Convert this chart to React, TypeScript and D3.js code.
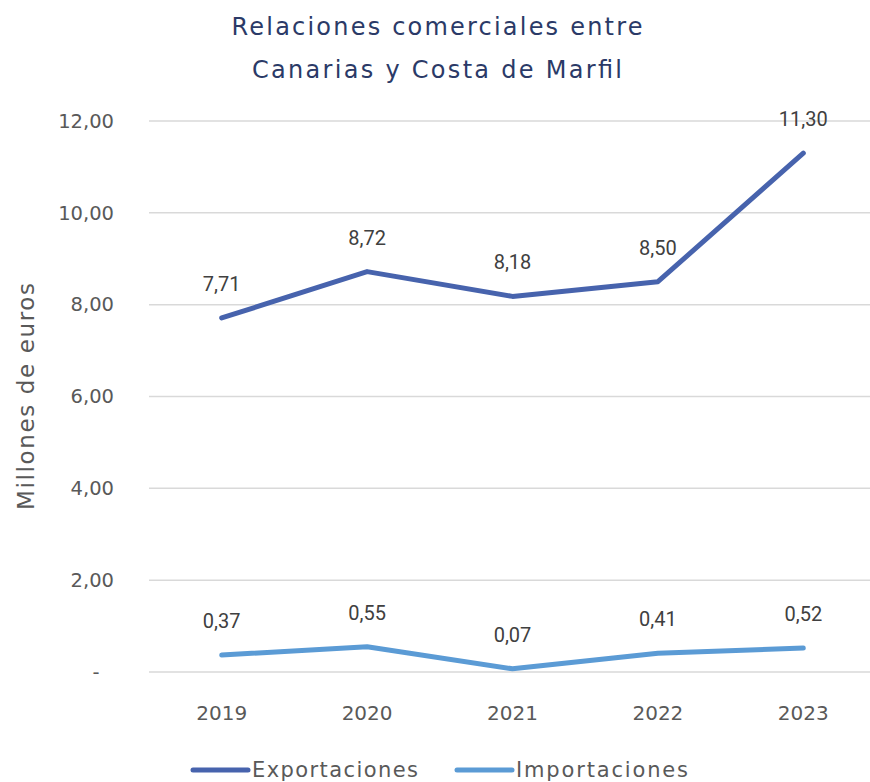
import React, { useRef, useEffect } from "react";
import * as d3 from "d3";

const years = ["2019", "2020", "2021", "2022", "2023"];
const exportaciones = [7.71, 8.72, 8.18, 8.5, 11.3];
const importaciones = [0.37, 0.55, 0.07, 0.41, 0.52];
const yTicks = [0, 2, 4, 6, 8, 10, 12];
const seriesNames = ["Exportaciones", "Importaciones"];
const seriesColors = ["#4763ad", "#5b9bd5"];
const titleLines = ["Relaciones comerciales entre", "Canarias y Costa de Marfil"];

const fmt = (v: number) => v.toFixed(2).replace(".", ",");

const App = () => {
  const svgRef = useRef<SVGSVGElement>(null);

  useEffect(() => {
    const width = 870;
    const height = 782;
    const margin = { top: 121, right: -6, bottom: 110, left: 149 };
    const font = "'DejaVu Sans', sans-serif";

    const svg = d3.select(svgRef.current).attr("width", width).attr("height", height);
    svg.selectAll("*").remove();

    const x = d3
      .scaleBand<string>()
      .domain(years)
      .range([margin.left, width - margin.right]);
    const y = d3
      .scaleLinear()
      .domain([0, 12])
      .range([height - margin.bottom, margin.top]);

    // title (Poppins-like width via textLength)
    const titleLens = [411, 370];
    titleLines.forEach((t, i) => {
      svg
        .append("text")
        .attr("x", 437)
        .attr("y", 35 + i * 43)
        .attr("text-anchor", "middle")
        .attr("textLength", titleLens[i])
        .attr("lengthAdjust", "spacing")
        .attr("fill", "#2b3a67")
        .style("font-family", font)
        .style("font-size", "24px")
        .text(t);
    });

    // gridlines
    svg
      .append("g")
      .selectAll("line")
      .data(yTicks)
      .join("line")
      .attr("x1", margin.left)
      .attr("x2", width)
      .attr("y1", (d) => y(d))
      .attr("y2", (d) => y(d))
      .attr("stroke", "#d9d9d9")
      .attr("stroke-width", 1.5);

    // y tick labels
    svg
      .append("g")
      .selectAll("text")
      .data(yTicks)
      .join("text")
      .attr("x", (d) => (d === 0 ? 96 : 114))
      .attr("y", (d) => y(d))
      .attr("dy", "0.35em")
      .attr("text-anchor", (d) => (d === 0 ? "middle" : "end"))
      .attr("fill", "#595959")
      .style("font-family", font)
      .style("font-size", "19.5px")
      .text((d) => (d === 0 ? "-" : fmt(d)));

    // x tick labels
    svg
      .append("g")
      .selectAll("text")
      .data(years)
      .join("text")
      .attr("x", (d) => x(d)! + x.bandwidth() / 2)
      .attr("y", 720)
      .attr("text-anchor", "middle")
      .attr("fill", "#595959")
      .style("font-family", font)
      .style("font-size", "20px")
      .text((d) => d);

    // y axis title
    svg
      .append("text")
      .attr("transform", `translate(34,${y(6)}) rotate(-90)`)
      .attr("text-anchor", "middle")
      .attr("textLength", 227)
      .attr("lengthAdjust", "spacing")
      .attr("fill", "#595959")
      .style("font-family", font)
      .style("font-size", "23px")
      .text("Millones de euros");

    const line = d3
      .line<number>()
      .x((_, i) => x(years[i])! + x.bandwidth() / 2)
      .y((d) => y(d));

    [exportaciones, importaciones].forEach((values, si) => {
      svg
        .append("path")
        .datum(values)
        .attr("d", line)
        .attr("fill", "none")
        .attr("stroke", seriesColors[si])
        .attr("stroke-width", 5)
        .attr("stroke-linecap", "round")
        .attr("stroke-linejoin", "round");

      svg
        .append("g")
        .selectAll("text")
        .data(values)
        .join("text")
        .attr("x", (_, i) => x(years[i])! + x.bandwidth() / 2)
        .attr("y", (d) => y(d) - 27)
        .attr("text-anchor", "middle")
        .attr("fill", "#404040")
        .style("font-family", "Roboto, sans-serif")
        .style("font-size", "20px")
        .text((d) => fmt(d));
    });

    // legend
    const legendX = [193, 457];
    const legendLens = [166, 172];
    seriesNames.forEach((name, i) => {
      const g = svg.append("g").attr("transform", `translate(${legendX[i]},770)`);
      g.append("line")
        .attr("x1", 0)
        .attr("x2", 55)
        .attr("stroke", seriesColors[i])
        .attr("stroke-width", 5)
        .attr("stroke-linecap", "round");
      g.append("text")
        .attr("x", 59)
        .attr("y", 7)
        .attr("textLength", legendLens[i])
        .attr("lengthAdjust", "spacing")
        .attr("fill", "#595959")
        .style("font-family", font)
        .style("font-size", "21px")
        .text(name);
    });
  }, []);

  return <svg ref={svgRef} style={{ position: "absolute", left: 0, top: 0 }}></svg>;
};

export default App;
